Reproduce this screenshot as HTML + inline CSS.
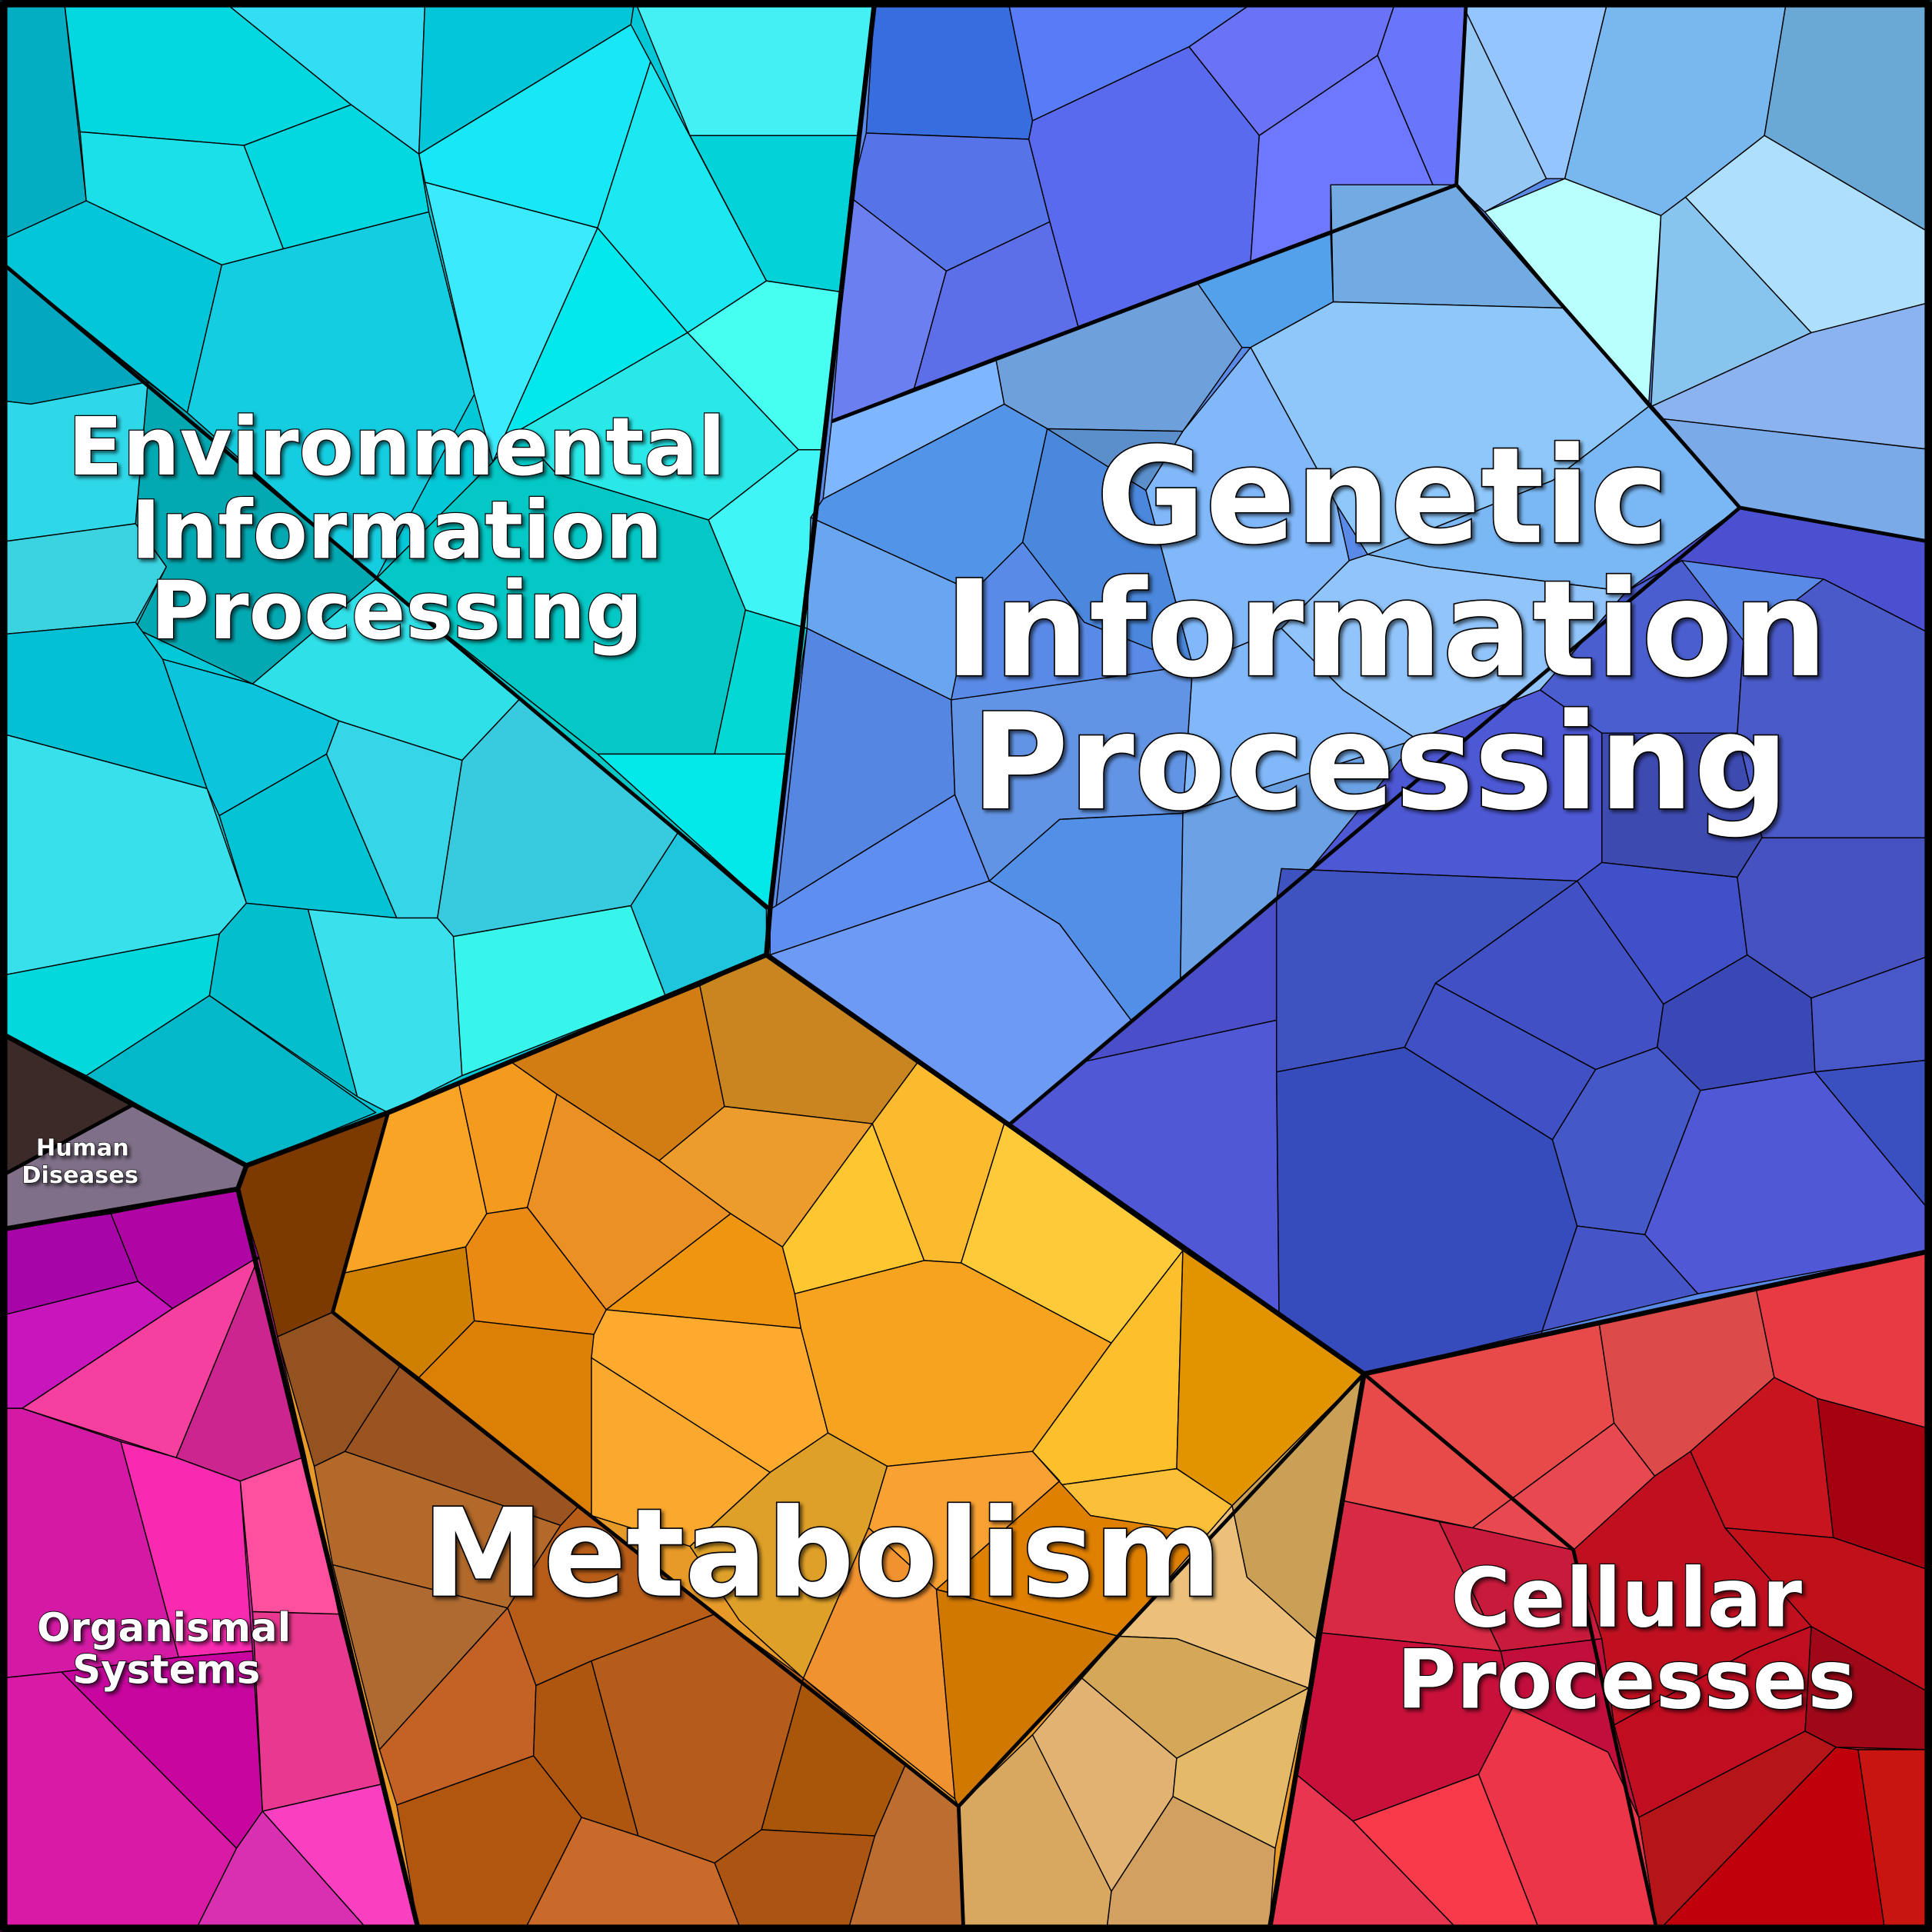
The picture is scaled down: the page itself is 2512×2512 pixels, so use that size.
<!DOCTYPE html>
<html><head><meta charset="utf-8"><style>
html,body{margin:0;padding:0;background:#000;}
svg{display:block;}
.c polygon{stroke:#000;stroke-width:0.9;stroke-linejoin:round;}
.t{font-family:"DejaVu Sans","Liberation Sans",sans-serif;font-weight:bold;fill:#fff;stroke:#000;paint-order:stroke;text-anchor:middle;}
</style></head><body>
<svg width="2512" height="2512" viewBox="0 0 1568 1568" xmlns="http://www.w3.org/2000/svg">
<defs><filter id="sh"><feDropShadow dx="2" dy="2" stdDeviation="1.5" flood-color="#000" flood-opacity="0.6"/></filter></defs>
<polygon points="0,0 710,0 625,738 622,775 315,903 200,946 0,838" fill="#03c8d8"/>
<polygon points="710,0 1568,0 1568,1015 1107,1115 622,775 625,738" fill="#5a8ae8"/>
<polygon points="622,775 1107,1115 1030,1568 340,1568 193,965 200,946 315,903" fill="#e89a28"/>
<polygon points="0,838 200,946 193,965 0,998" fill="#7f6f88"/>
<polygon points="0,998 193,965 340,1568 0,1568" fill="#d41aa5"/>
<polygon points="1107,1115 1568,1015 1568,1568 1030,1568" fill="#d02030"/>
<g class="c">
<polygon points="0,0 52,0 70,163 0,195" fill="#03aec3"/>
<polygon points="52,0 180,0 285,85 198,118 65,107" fill="#03d8e0"/>
<polygon points="180,0 345,0 340,125 285,85" fill="#33ddf3"/>
<polygon points="345,0 515,0 512,20 340,125" fill="#03c6d8"/>
<polygon points="515,0 710,0 698,110 560,110" fill="#45f0f5"/>
<polygon points="560,110 698,110 683,237 622,228" fill="#03d3d8"/>
<polygon points="340,125 512,20 528,50 485,185 345,148" fill="#18e8f5"/>
<polygon points="485,185 528,50 622,228 558,270" fill="#1be8f0"/>
<polygon points="65,107 198,118 230,202 180,215 70,163" fill="#1ce0e8"/>
<polygon points="198,118 285,85 340,125 348,172 230,202" fill="#03d8e0"/>
<polygon points="0,195 70,163 180,215 152,335 0,212" fill="#03c6d8"/>
<polygon points="180,215 230,202 348,172 385,320 305,470 152,335" fill="#15cde0"/>
<polygon points="345,148 485,185 400,375 385,320" fill="#3beafc"/>
<polygon points="485,185 558,270 420,350 400,375" fill="#03e8ed"/>
<polygon points="558,270 622,228 683,237 668,365 648,365" fill="#46fff0"/>
<polygon points="0,212 120,310 25,328 0,325" fill="#03a7c0"/>
<polygon points="120,310 152,335 305,470 205,555 110,510 135,460 110,425" fill="#03a9b2"/>
<polygon points="420,350 558,270 648,365 575,422 452,385" fill="#2ae8e8"/>
<polygon points="575,422 648,365 668,365 655,510 605,495" fill="#40f5f5"/>
<polygon points="400,375 420,350 452,385 575,422 605,495 580,612 485,612 305,470" fill="#03c8c5"/>
<polygon points="580,612 605,495 655,510 640,612" fill="#03d8d5"/>
<polygon points="485,612 640,612 625,738" fill="#03e8e8"/>
<polygon points="0,325 25,328 120,310 110,425 0,440" fill="#2fd8e8"/>
<polygon points="0,440 110,425 135,460 110,505 0,515" fill="#3bd3e0"/>
<polygon points="0,515 110,505 132,535 168,640 0,595" fill="#03c0d5"/>
<polygon points="0,595 168,640 200,733 178,758 0,792" fill="#38e0ec"/>
<polygon points="0,792 178,758 170,808 70,873 0,838" fill="#03d8dc"/>
<polygon points="70,873 170,808 305,903 200,946" fill="#03b8c9"/>
<polygon points="170,808 178,758 200,733 250,738 290,890" fill="#03bfcd"/>
<polygon points="250,738 355,745 368,760 375,873 315,903 290,890" fill="#3ae0ec"/>
<polygon points="368,760 512,735 540,808 375,873" fill="#38f5ec"/>
<polygon points="512,735 550,676 622,738 622,775 540,808" fill="#1ec5dc"/>
<polygon points="355,745 375,617 422,567 550,676 512,735 368,760" fill="#38cbe0"/>
<polygon points="168,640 132,535 205,555 275,585 265,612 178,662" fill="#0cc5dd"/>
<polygon points="178,662 265,612 322,745 250,738 200,733" fill="#03c4d5"/>
<polygon points="265,612 275,585 375,617 355,745 322,745" fill="#36d5e8"/>
<polygon points="205,555 305,470 422,567 375,617 275,585" fill="#30e0e8"/>
<polygon points="305,470 485,612 625,738 550,676 422,567" fill="#03c8c5"/>
<polygon points="710,0 818,0 838,98 835,113 703,108" fill="#386ddf"/>
<polygon points="818,0 1020,0 965,38 838,98" fill="#587cf8"/>
<polygon points="1020,0 1133,0 1118,45 1022,110 965,38" fill="#6a72f5"/>
<polygon points="1133,0 1190,0 1182,150 1165,155 1118,45" fill="#6876fb"/>
<polygon points="703,108 835,113 852,180 768,220 690,160" fill="#5673e8"/>
<polygon points="835,113 838,98 965,38 1022,110 1015,212 875,265 852,180" fill="#5a6aee"/>
<polygon points="1022,110 1118,45 1165,155 1015,212" fill="#6e78fe"/>
<polygon points="690,160 768,220 742,315 675,342" fill="#6b7ff0"/>
<polygon points="768,220 852,180 875,265 742,315" fill="#5c6ee8"/>
<polygon points="1190,0 1305,0 1270,145 1255,145 1190,10" fill="#94c5fe"/>
<polygon points="1190,10 1255,145 1205,172 1182,150" fill="#95c8f5"/>
<polygon points="1305,0 1450,0 1432,110 1368,160 1348,175 1270,145" fill="#78b8ef"/>
<polygon points="1450,0 1568,0 1568,190 1432,110" fill="#6aa8d5"/>
<polygon points="1205,172 1270,145 1348,175 1338,330" fill="#b8fffe"/>
<polygon points="1348,175 1368,160 1470,270 1340,330" fill="#88c5ee"/>
<polygon points="1368,160 1432,110 1568,190 1568,245 1495,270 1470,270" fill="#aee0fd"/>
<polygon points="1340,330 1470,270 1568,245 1568,365 1350,340" fill="#8ab3f0"/>
<polygon points="1350,340 1568,365 1568,440 1412,412" fill="#7aaae8"/>
<polygon points="1080,150 1182,150 1270,250 1082,245" fill="#72aae2"/>
<polygon points="875,265 1015,212 1080,190 1080,150 1082,245 1015,282 972,230" fill="#6a8ee0"/>
<polygon points="972,230 1080,190 1082,245 1015,282 1008,282" fill="#53a0eb"/>
<polygon points="808,290 972,230 1008,282 960,350 850,348 815,328" fill="#6ea0dc"/>
<polygon points="815,328 850,348 960,350 930,398" fill="#5a8fcc"/>
<polygon points="675,342 808,290 815,328 668,405" fill="#7eb6ff"/>
<polygon points="668,405 815,328 850,348 830,440 790,480 658,420" fill="#5294e8"/>
<polygon points="658,420 790,480 772,568 655,510" fill="#6aa5f0"/>
<polygon points="830,440 850,348 930,398 968,540 880,505" fill="#4a88dd"/>
<polygon points="1015,282 1082,245 1270,250 1338,330 1260,390 1110,450 1085,410" fill="#8ec8fb"/>
<polygon points="930,398 960,350 1015,282 1085,410 1095,455 1040,510 968,540" fill="#80b8fa"/>
<polygon points="1260,390 1338,330 1412,412 1320,480 1160,460 1110,450" fill="#7ab8f5"/>
<polygon points="655,510 772,568 775,645 630,735" fill="#5486e2"/>
<polygon points="630,735 775,645 803,715 625,775 625,738" fill="#5d8ef0"/>
<polygon points="772,568 968,540 960,660 860,665 803,715 775,645" fill="#6294e5"/>
<polygon points="625,775 803,715 860,750 918,828 820,912" fill="#6c9af5"/>
<polygon points="803,715 860,665 960,660 958,795 918,828 860,750" fill="#5290e8"/>
<polygon points="968,540 1040,510 1090,560 1150,600 960,660" fill="#80b8fa"/>
<polygon points="1040,510 1095,455 1110,450 1160,460 1320,480 1250,560 1150,600 1090,560" fill="#90c4fa"/>
<polygon points="960,660 1150,600 1060,710 958,795" fill="#6aa2e5"/>
<polygon points="1320,480 1412,412 1568,440 1568,515 1480,470 1365,455" fill="#4a50d0"/>
<polygon points="1250,560 1320,480 1365,455 1415,520 1410,595 1300,595" fill="#4a5ecf"/>
<polygon points="1415,520 1480,470 1568,515 1568,680 1430,680 1410,595" fill="#4a5ac8"/>
<polygon points="1300,595 1410,595 1430,680 1410,712 1300,700" fill="#3d4ab0"/>
<polygon points="1060,710 1150,600 1250,560 1300,595 1300,700 1280,715 1040,705" fill="#4d58d5"/>
<polygon points="820,912 918,828 958,795 1060,710 1036,730 1036,828 878,862" fill="#4a4ec8"/>
<polygon points="1036,730 1040,705 1280,715 1165,798 1140,850 1036,870" fill="#3e52c0"/>
<polygon points="1280,715 1300,700 1410,712 1418,775 1350,815" fill="#4050c8"/>
<polygon points="1410,712 1430,680 1568,680 1568,775 1470,810 1418,775" fill="#4652c0"/>
<polygon points="1165,798 1280,715 1350,815 1345,850 1295,868" fill="#4250c5"/>
<polygon points="1345,850 1350,815 1418,775 1470,810 1473,870 1380,885" fill="#3a48b5"/>
<polygon points="1473,870 1470,810 1568,775 1568,860" fill="#4858c8"/>
<polygon points="1036,870 1140,850 1260,925 1280,995 1250,1085 1107,1115 1038,1065" fill="#364cbd"/>
<polygon points="1140,850 1165,798 1295,868 1260,925" fill="#4050c5"/>
<polygon points="1260,925 1295,868 1345,850 1380,885 1335,1002 1280,995" fill="#4458c8"/>
<polygon points="1380,885 1473,870 1568,985 1568,1015 1378,1050 1335,1002" fill="#5058d5"/>
<polygon points="1473,870 1568,860 1568,985" fill="#3a4fc0"/>
<polygon points="1250,1085 1280,995 1335,1002 1378,1050 1107,1115" fill="#4555c8"/>
<polygon points="878,862 1036,828 1036,870 1038,1065 820,912" fill="#5058d5"/>
<polygon points="315,903 372,878 395,985 378,1012 280,1033" fill="#f9a424"/>
<polygon points="372,878 415,862 452,888 428,980 395,985" fill="#f49a1e"/>
<polygon points="415,862 568,800 588,898 535,942 452,888" fill="#d27d14"/>
<polygon points="568,800 622,775 745,862 708,912 588,898" fill="#c98520"/>
<polygon points="452,888 535,942 593,985 492,1063 428,980" fill="#ea9025"/>
<polygon points="588,898 708,912 635,1012 593,985 535,942" fill="#ec9c2c"/>
<polygon points="708,912 745,862 815,912 780,1025 750,1023" fill="#fcba2e"/>
<polygon points="708,912 750,1023 645,1050 635,1012" fill="#fec630"/>
<polygon points="815,912 960,1015 902,1090 780,1025" fill="#fdcb3a"/>
<polygon points="593,985 635,1012 645,1050 650,1078 492,1063" fill="#f09510"/>
<polygon points="270,1065 280,1033 378,1012 385,1072 340,1118" fill="#d08000"/>
<polygon points="378,1012 395,985 428,980 492,1063 482,1083 385,1072" fill="#ea8a12"/>
<polygon points="340,1118 385,1072 482,1083 480,1230" fill="#dc8005"/>
<polygon points="482,1083 492,1063 650,1078 672,1163 625,1195 480,1102" fill="#fdaa2e"/>
<polygon points="480,1102 625,1195 560,1255 480,1230" fill="#fba92e"/>
<polygon points="645,1050 750,1023 780,1025 902,1090 838,1178 720,1190 672,1163 650,1078" fill="#f6a420"/>
<polygon points="902,1090 960,1015 955,1192 862,1205 838,1178" fill="#fbc02c"/>
<polygon points="960,1015 1107,1115 1000,1222 955,1192" fill="#e29400"/>
<polygon points="672,1163 720,1190 705,1240 652,1362 600,1315 560,1255 625,1195" fill="#dea028"/>
<polygon points="720,1190 838,1178 860,1202 760,1290 705,1240" fill="#f9a233"/>
<polygon points="838,1178 862,1205 955,1192 1000,1222 908,1328 760,1290 860,1202" fill="#e08000"/>
<polygon points="862,1205 955,1192 1000,1222 980,1245 885,1230" fill="#fbbf38"/>
<polygon points="652,1362 705,1240 760,1290 775,1460" fill="#f19230"/>
<polygon points="760,1290 908,1328 778,1466 775,1460" fill="#d07800"/>
<polygon points="193,965 200,946 315,903 270,1065 225,1085" fill="#7c3900"/>
<polygon points="225,1085 270,1065 325,1108 280,1178 255,1190" fill="#935220"/>
<polygon points="280,1178 325,1108 470,1222 455,1238" fill="#9b5420"/>
<polygon points="255,1190 280,1178 455,1238 412,1305 270,1270" fill="#b2692a"/>
<polygon points="270,1270 412,1305 308,1420" fill="#ae6a30"/>
<polygon points="412,1305 455,1238 470,1222 580,1310 480,1348 435,1368" fill="#b85d18"/>
<polygon points="308,1420 412,1305 435,1368 433,1425 322,1465" fill="#c46125"/>
<polygon points="433,1425 435,1368 480,1348 518,1490 472,1475" fill="#ae5510"/>
<polygon points="480,1348 580,1310 652,1362 618,1485 580,1512 518,1490" fill="#b55c1a"/>
<polygon points="652,1362 735,1432 710,1490 618,1485" fill="#a8560a"/>
<polygon points="322,1465 433,1425 472,1475 425,1568 340,1568" fill="#b0560e"/>
<polygon points="472,1475 518,1490 580,1512 602,1568 425,1568" fill="#c96a2a"/>
<polygon points="580,1512 618,1485 710,1490 688,1568 602,1568" fill="#ac5512"/>
<polygon points="710,1490 735,1432 778,1466 782,1568 688,1568" fill="#bd6d30"/>
<polygon points="1000,1222 1107,1115 1068,1330 1012,1280" fill="#c9a055"/>
<polygon points="908,1328 1000,1222 1012,1280 1068,1330 1062,1370 955,1330" fill="#ecc07a"/>
<polygon points="878,1362 908,1328 955,1330 1062,1370 955,1427" fill="#d4a858"/>
<polygon points="778,1466 838,1408 878,1362 955,1427 952,1458 902,1535" fill="#e2b272"/>
<polygon points="778,1466 838,1408 902,1535 898,1568 782,1568" fill="#d8a860"/>
<polygon points="955,1427 1062,1370 1035,1500 952,1458" fill="#e4ba68"/>
<polygon points="902,1535 952,1458 1035,1500 1030,1568 898,1568" fill="#d2a060"/>
<polygon points="0,838 107,897 0,955" fill="#3c2a28"/>
<polygon points="107,897 200,946 193,965 0,998 0,955" fill="#7f6f88"/>
<polygon points="0,998 90,985 112,1040 0,1068" fill="#a805a8"/>
<polygon points="90,985 193,965 210,1020 140,1062 112,1040" fill="#b005a5"/>
<polygon points="0,1068 112,1040 140,1062 18,1143 0,1143" fill="#c815bc"/>
<polygon points="18,1143 140,1062 210,1020 143,1183" fill="#f540a0"/>
<polygon points="143,1183 210,1020 248,1182 195,1202" fill="#cc2590"/>
<polygon points="0,1143 18,1143 98,1170 145,1345 50,1357 0,1362" fill="#d41aa5"/>
<polygon points="98,1170 143,1183 195,1202 205,1340 145,1345" fill="#f82ab0"/>
<polygon points="195,1202 248,1182 275,1310 205,1308" fill="#ff50a0"/>
<polygon points="205,1308 275,1310 310,1448 213,1470" fill="#e8388f"/>
<polygon points="0,1362 50,1357 192,1500 158,1568 0,1568" fill="#d81aa5"/>
<polygon points="50,1357 145,1345 205,1340 213,1470 192,1500" fill="#c8059f"/>
<polygon points="213,1470 310,1448 340,1568 300,1568" fill="#f840c0"/>
<polygon points="158,1568 192,1500 213,1470 300,1568" fill="#d830b0"/>
<polygon points="1107,1115 1298,1075 1310,1155 1195,1240 1090,1218" fill="#e84a4a"/>
<polygon points="1298,1075 1425,1045 1440,1118 1372,1178 1343,1198 1310,1155" fill="#dd4a4a"/>
<polygon points="1425,1045 1568,1015 1568,1160 1475,1135 1440,1118" fill="#e83a42"/>
<polygon points="1195,1240 1310,1155 1343,1198 1277,1258" fill="#e84850"/>
<polygon points="1090,1218 1168,1235 1218,1340 1070,1325" fill="#d82a45"/>
<polygon points="1168,1235 1195,1240 1277,1258 1300,1330 1218,1340" fill="#c81a3a"/>
<polygon points="1052,1440 1070,1325 1218,1340 1228,1385 1200,1440 1098,1478" fill="#c8103a"/>
<polygon points="1277,1258 1343,1198 1372,1178 1400,1240 1470,1320 1420,1340 1310,1400 1300,1330" fill="#c01020"/>
<polygon points="1372,1178 1440,1118 1475,1135 1488,1248 1400,1240" fill="#c8141e"/>
<polygon points="1475,1135 1568,1160 1568,1275 1488,1248" fill="#a5000f"/>
<polygon points="1400,1240 1488,1248 1568,1275 1568,1375 1470,1320" fill="#c0101a"/>
<polygon points="1470,1320 1568,1375 1568,1420 1490,1418 1465,1405" fill="#a00818"/>
<polygon points="1310,1400 1420,1340 1470,1320 1465,1405 1330,1475" fill="#c00d20"/>
<polygon points="1218,1340 1300,1330 1310,1400 1330,1475 1305,1422 1228,1385" fill="#c20e3c"/>
<polygon points="1200,1440 1228,1385 1305,1422 1330,1475 1345,1568 1250,1568" fill="#ec3548"/>
<polygon points="1098,1478 1200,1440 1250,1568 1185,1568" fill="#f83a4a"/>
<polygon points="1030,1568 1052,1440 1098,1478 1185,1568" fill="#e83550"/>
<polygon points="1330,1475 1465,1405 1490,1418 1345,1568" fill="#b51518"/>
<polygon points="1345,1568 1490,1418 1508,1420 1530,1568" fill="#c0000a"/>
<polygon points="1508,1420 1568,1420 1568,1568 1530,1568" fill="#c81510"/>
</g>
<g fill="none" stroke="#000" stroke-linejoin="round">
<polyline stroke-width="3" points="0,212 625,738"/>
<polyline stroke-width="3" points="675,342 1182,150 1190,0"/>
<polyline stroke-width="3" points="1182,150 1412,412 1568,440"/>
<polyline stroke-width="3" points="1412,412 820,912"/>
<polyline stroke-width="3" points="315,903 270,1065 778,1466 1107,1115"/>
<polyline stroke-width="3" points="778,1466 782,1568"/>
<polyline stroke-width="3" points="1277,1258 1345,1568"/>
<polyline stroke-width="3" points="1277,1258 1107,1115"/>
<polyline stroke-width="3" points="0,955 107,897"/>
<polyline stroke-width="4" points="710,0 625,738 622,775 315,903 200,946 0,838"/>
<polyline stroke-width="4" points="622,775 1107,1115 1568,1015"/>
<polyline stroke-width="4" points="1107,1115 1030,1568"/>
<polyline stroke-width="4" points="0,998 193,965 200,946"/>
<polyline stroke-width="4" points="193,965 340,1568"/>
<rect x="3" y="3" width="1562" height="1562" stroke-width="6"/>
</g>
<g filter="url(#sh)">
<text class="t" font-size="65" stroke-width="1.5" x="322" y="385">Environmental</text>
<text class="t" font-size="65" stroke-width="1.5" x="322" y="453">Information</text>
<text class="t" font-size="65" stroke-width="1.5" x="322" y="518">Processing</text>
<text class="t" font-size="108" stroke-width="2" x="1122" y="440">Genetic</text>
<text class="t" font-size="108" stroke-width="2" x="1125" y="548">Information</text>
<text class="t" font-size="108" stroke-width="2" x="1120" y="656">Processing</text>
<text class="t" font-size="99" stroke-width="2" x="667" y="1295">Metabolism</text>
<text class="t" font-size="66" stroke-width="1.5" x="1320" y="1320">Cellular</text>
<text class="t" font-size="66" stroke-width="1.5" x="1320" y="1386">Processes</text>
<text class="t" font-size="32" stroke-width="1" x="133" y="1332">Organismal</text>
<text class="t" font-size="32" stroke-width="1" x="135" y="1366">Systems</text>
<text class="t" font-size="19" stroke-width="0.7" x="67" y="938">Human</text>
<text class="t" font-size="19" stroke-width="0.7" x="65" y="960">Diseases</text>
</g>
</svg>
</body></html>
